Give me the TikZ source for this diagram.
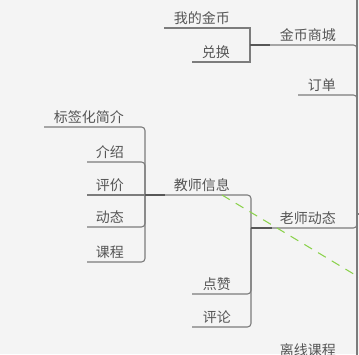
\documentclass[tikz,border=0pt]{standalone}
\usepackage{fontspec}
\newfontfamily\cjk{Noto Sans CJK SC}
\definecolor{bg}{HTML}{F4F4F4}
\definecolor{ln}{HTML}{7C7C7C}
\definecolor{lndark}{HTML}{575757}
\definecolor{txt}{HTML}{555555}
\definecolor{rel}{HTML}{8CD24E}
\tikzset{
  topic/.style={font=\cjk\fontsize{14}{14}\selectfont, text=txt, inner sep=0pt, anchor=base east},
  conn/.style={draw=ln, line width=1.1pt, rounded corners=3.5pt},
  sqconn/.style={draw=ln, line width=1.1pt},
  darkseg/.style={draw=lndark, line width=1.1pt},
  relline/.style={draw=rel, line width=1.1pt, dash pattern=on 9pt off 7pt},
}
\begin{document}
\begin{tikzpicture}[x=1pt,y=-1pt]
\fill[bg] (0,0) rectangle (359,354);
\useasboundingbox (0,0) rectangle (359,354);
\clip (0,0) rectangle (359,354);

% root junction and off-picture ends
\coordinate (root) at (357,214);
\coordinate (rootR) at (366,214);
\coordinate (top) at (357,-5);
\coordinate (bot) at (357,362);

% topics (text) and the left ends of their underlines
\node[topic] (jb) at (336,40) {金币商城};   \coordinate (jbL) at (250,45);
\node[topic] (wd) at (230,23) {我的金币};   \coordinate (wdL) at (164,28);
\node[topic] (dh) at (230,57) {兑换};       \coordinate (dhL) at (192,62);
\node[topic] (dd) at (336,90) {订单};       \coordinate (ddL) at (298,95);
\node[topic] (ls) at (336,223) {老师动态};  \coordinate (lsL) at (251,228);
\node[topic] (jx) at (230,190) {教师信息};  \coordinate (jxL) at (145,195);
\node[topic] (dz) at (231,289) {点赞};      \coordinate (dzL) at (192,294);
\node[topic] (pl) at (231,322) {评论};      \coordinate (plL) at (192,327);
\node[topic] (bq) at (124,122) {标签化简介}; \coordinate (bqL) at (44,127);
\node[topic] (js) at (124,157) {介绍};      \coordinate (jsL) at (87,162);
\node[topic] (pj) at (124,190) {评价};      \coordinate (pjL) at (87,195);
\node[topic] (dt) at (124,222) {动态};      \coordinate (dtL) at (87,227);
\node[topic] (kc) at (124,257) {课程};      \coordinate (kcL) at (87,262);
\node[topic] (lx) at (336,355) {离线课程};  \coordinate (lxL) at (262,362);

% root connectors
\draw[sqconn] (root) -- (top);
\draw[sqconn] (root) -- (bot);
\draw[sqconn] (root) -- (rootR);
\draw[conn] (root) |- (jbL);
\draw[conn] (root) |- (ddL);
\draw[conn] (root) |- (lsL);
\draw[conn] (root) |- (lxL);

% 金币商城 children
\draw[sqconn] (jbL) |- (wdL);
\draw[sqconn] (jbL) |- (dhL);
\coordinate (jbD) at (270,45);
\draw[darkseg] (jbL) -- (jbD);

% 老师动态 children
\draw[conn] (lsL) |- (jxL);
\draw[conn] (lsL) |- (dzL);
\draw[conn] (lsL) |- (plL);
\coordinate (lsD) at (272,228);
\draw[darkseg] (lsL) -- (lsD);

% 教师信息 children
\draw[conn] (jxL) |- (bqL);
\draw[conn] (jxL) |- (jsL);
\draw[conn] (jxL) -- (pjL);
\draw[conn] (jxL) |- (dtL);
\draw[conn] (jxL) |- (kcL);
\coordinate (jxD) at (165,195);
\draw[darkseg] (jxL) -- (jxD);

% relationship line
\coordinate (rs) at (222,195);
\coordinate (re) at (372,285);
\draw[relline] (rs) -- (re);
\end{tikzpicture}
\end{document}
